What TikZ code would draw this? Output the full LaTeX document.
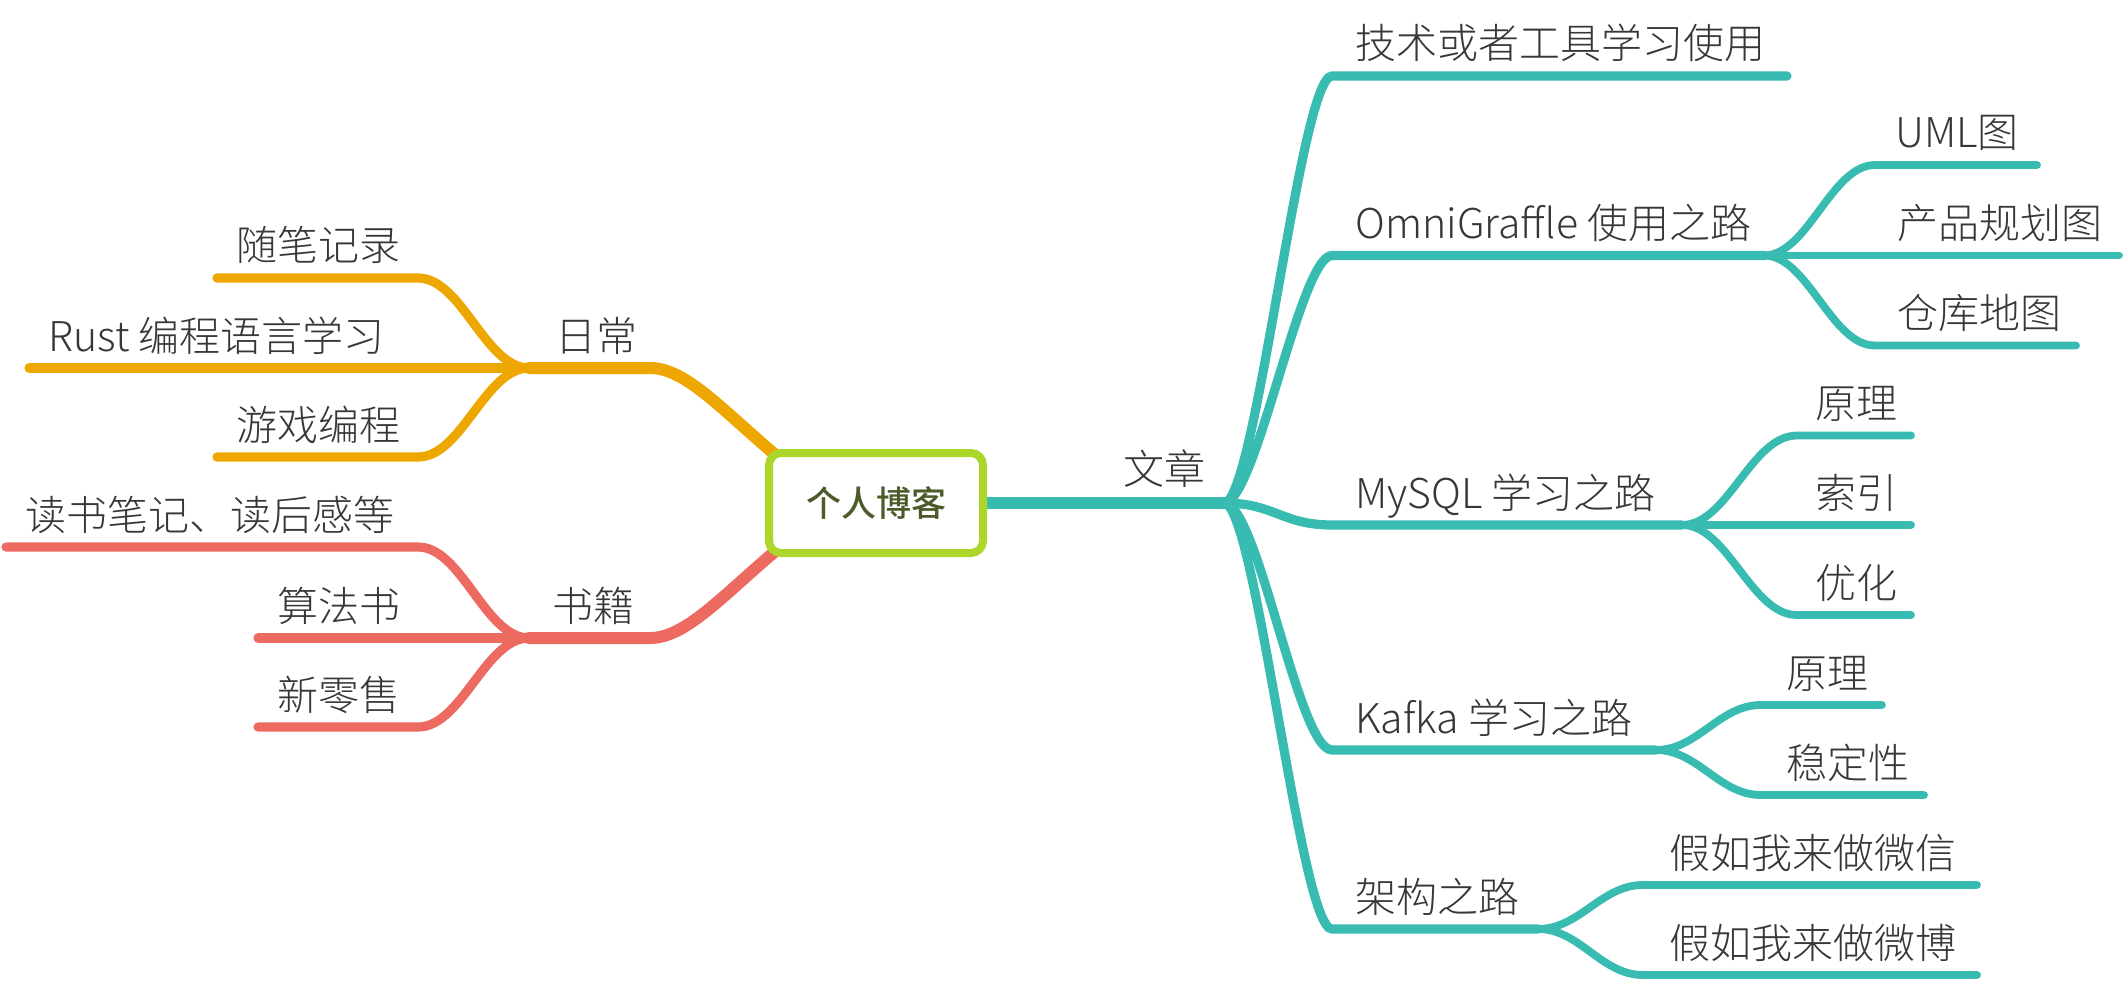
\documentclass[tikz,border=0pt]{standalone}
\usepackage{fontspec}
\setmainfont{Noto Sans CJK SC}[UprightFont=* Light, BoldFont=* Medium]
\usetikzlibrary{calc}
\definecolor{teal1}{RGB}{56,187,176}
\definecolor{orange1}{RGB}{238,166,0}
\definecolor{red1}{RGB}{237,106,96}
\definecolor{green1}{RGB}{173,214,42}
\definecolor{olive1}{RGB}{77,91,43}
\definecolor{textgray}{RGB}{55,55,55}
\tikzset{
  txt/.style={anchor=base west, inner sep=0pt, font=\fontsize{20.5}{24}\selectfont, text=textgray},
  lone/.style={line width=6pt, line cap=round},
  ltwo/.style={line width=4.6pt, line cap=round},
  lthree/.style={line width=3.9pt, line cap=round},
  rootbox/.style={draw=green1, line width=4pt, rounded corners=6pt, fill=white,
     minimum width=107pt, minimum height=50pt, inner sep=0pt,
     font=\fontsize{17.5}{20}\selectfont\bfseries, text=olive1}
}
\begin{document}
\begin{tikzpicture}[x=0.5pt,y=-0.5pt]
\useasboundingbox (0,0) rectangle (2126,984);
% ---------- coordinates ----------
\coordinate (rootc) at (876,503);
\coordinate (J) at (1224,503);
\coordinate (O) at (1764,255.5);
\coordinate (M) at (1682,525);
\coordinate (K) at (1656,750);
\coordinate (A) at (1538,929);
\coordinate (D) at (529,368);
\coordinate (B) at (529,638);
\coordinate (Ds) at (650,368);
\coordinate (Bs) at (650,638);
\coordinate (rD) at (800,475);
\coordinate (rB) at (800,531);
% right level 1
\coordinate (js) at (1332,76)    ; \coordinate (je) at (1787,76);
\coordinate (os) at (1332,255.5) ;
\coordinate (ms) at (1332,525)   ;
\coordinate (ks) at (1332,750)   ;
\coordinate (as) at (1332,929)   ;
% right level 2
\coordinate (u1s) at (1875,165)   ; \coordinate (u1e) at (2037,165);
\coordinate (u2e) at (2119,255.5);
\coordinate (u3s) at (1875,345.5) ; \coordinate (u3e) at (2076,345.5);
\coordinate (m1s) at (1797,435.5) ; \coordinate (m1e) at (1911,435.5);
\coordinate (m2e) at (1911,525);
\coordinate (m3s) at (1797,615)   ; \coordinate (m3e) at (1911,615);
\coordinate (k1s) at (1761,705)   ; \coordinate (k1e) at (1882,705);
\coordinate (k2s) at (1761,795)   ; \coordinate (k2e) at (1924,795);
\coordinate (a1s) at (1643,885)   ; \coordinate (a1e) at (1977,885);
\coordinate (a2s) at (1643,975)   ; \coordinate (a2e) at (1977,975);
% left level 2
\coordinate (d1s) at (418,278) ; \coordinate (d1e) at (217,278);
\coordinate (d2e) at (29,368);
\coordinate (d3s) at (418,457) ; \coordinate (d3e) at (217,457);
\coordinate (b1s) at (418,547) ; \coordinate (b1e) at (6,547);
\coordinate (b2e) at (258,638);
\coordinate (b3s) at (418,727) ; \coordinate (b3e) at (258,727);

% ---------- connectors ----------
% right: 文章
\draw[teal1,lone] (rootc) -- (J);
\draw[teal1,ltwo] (J) .. controls +(32,0) and +(-32,0) .. (js) -- (je);
\draw[teal1,ltwo] (J) .. controls +(32,0) and +(-32,0) .. (os) -- (O);
\draw[teal1,ltwo] (J) .. controls +(50,0) and +(-50,0) .. (ms) -- (M);
\draw[teal1,ltwo] (J) .. controls +(34,0) and +(-34,0) .. (ks) -- (K);
\draw[teal1,ltwo] (J) .. controls +(32,0) and +(-32,0) .. (as) -- (A);
\draw[teal1,lthree] (O) .. controls +(44,0) and +(-44,0) .. (u1s) -- (u1e);
\draw[teal1,lthree] (O) -- (u2e);
\draw[teal1,lthree] (O) .. controls +(44,0) and +(-44,0) .. (u3s) -- (u3e);
\draw[teal1,lthree] (M) .. controls +(46,0) and +(-46,0) .. (m1s) -- (m1e);
\draw[teal1,lthree] (M) -- (m2e);
\draw[teal1,lthree] (M) .. controls +(46,0) and +(-46,0) .. (m3s) -- (m3e);
\draw[teal1,lthree] (K) .. controls +(42,0) and +(-42,0) .. (k1s) -- (k1e);
\draw[teal1,lthree] (K) .. controls +(42,0) and +(-42,0) .. (k2s) -- (k2e);
\draw[teal1,lthree] (A) .. controls +(42,0) and +(-42,0) .. (a1s) -- (a1e);
\draw[teal1,lthree] (A) .. controls +(42,0) and +(-42,0) .. (a2s) -- (a2e);
% left: 日常
\draw[orange1,lone] (rD) .. controls (730,420) and (690,368) .. (Ds) -- (D);
\draw[orange1,ltwo] (D) .. controls +(-44,0) and +(44,0) .. (d1s) -- (d1e);
\draw[orange1,ltwo] (D) -- (d2e);
\draw[orange1,ltwo] (D) .. controls +(-44,0) and +(44,0) .. (d3s) -- (d3e);
% left: 书籍
\draw[red1,lone] (rB) .. controls (730,586) and (690,638) .. (Bs) -- (B);
\draw[red1,ltwo] (B) .. controls +(-44,0) and +(44,0) .. (b1s) -- (b1e);
\draw[red1,ltwo] (B) -- (b2e);
\draw[red1,ltwo] (B) .. controls +(-44,0) and +(44,0) .. (b3s) -- (b3e);

% ---------- root ----------
\node[rootbox] (root) at (rootc) {个人博客};

% ---------- texts ----------
\node[txt] (wz) at (1123,484) {文章};
\node[txt] (t1) at (1355,59) {技术或者工具学习使用};
\node[txt] (t2) at (1355,238.5) {OmniGraffle 使用之路};
\node[txt] (t3) at (1355,508) {MySQL 学习之路};
\node[txt] (t4) at (1355,733) {Kafka 学习之路};
\node[txt] (t5) at (1355,912) {架构之路};
\node[txt] (o1) at (1895,148) {UML图};
\node[txt] (o2) at (1897,238.5) {产品规划图};
\node[txt] (o3) at (1897,328.5) {仓库地图};
\node[txt] (p1) at (1815,418.5) {原理};
\node[txt] (p2) at (1815,508) {索引};
\node[txt] (p3) at (1815,598) {优化};
\node[txt] (q1) at (1786,688) {原理};
\node[txt] (q2) at (1786,778) {稳定性};
\node[txt] (r1) at (1669,868) {假如我来做微信};
\node[txt] (r2) at (1669,958) {假如我来做微博};
\node[txt] (rc) at (555,351) {日常};
\node[txt] (s1) at (236,261) {随笔记录};
\node[txt] (s2) at (48,351) {Rust 编程语言学习};
\node[txt] (s3) at (236,440) {游戏编程};
\node[txt] (sj) at (552,621) {书籍};
\node[txt] (v1) at (25,530) {读书笔记、读后感等};
\node[txt] (v2) at (277,621) {算法书};
\node[txt] (v3) at (277,710) {新零售};
\end{tikzpicture}
\end{document}
